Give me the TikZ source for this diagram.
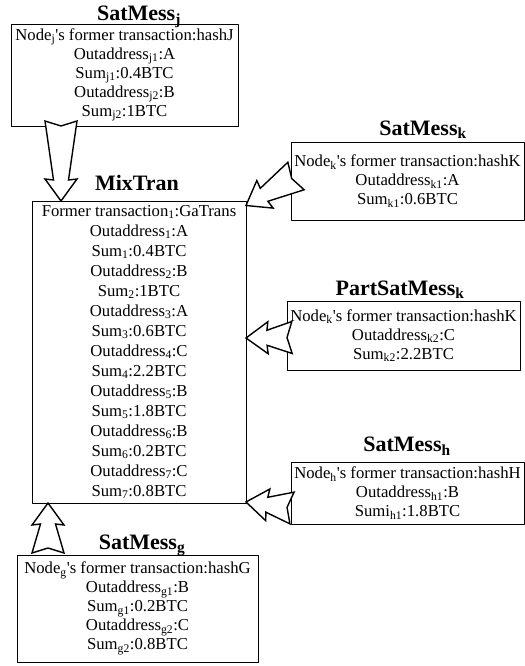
\documentclass[tikz,border=0pt]{standalone}
\usepackage{fontspec}
\setmainfont{Liberation Serif}
\usepackage{tikz}
\usetikzlibrary{arrows,shapes,calc}

\tikzset{
  msgbox/.style={draw, align=center, inner sep=0pt, line width=0.8bp,
    font=\fontsize{16.7bp}{19bp}\selectfont},
  msgtitle/.style={anchor=base, inner sep=0pt,
    font=\fontsize{22bp}{26bp}\selectfont\bfseries},
  fatarrow/.style={draw, fill=white, line width=1.4bp, line join=miter},
}

% hollow block arrow from #1 (tail) to #2 (tip)
\newcommand{\fatarrow}[2]{%
  \draw[fatarrow] ($(#1)!16bp!90:(#2)$) -- ($(#1)!5bp!(#2)$) -- ($(#1)!16bp!-90:(#2)$)
    -- ($($(#2)!21bp!(#1)$)!7.5bp!-90:(#2)$) -- ($($(#2)!22bp!(#1)$)!16bp!-90:(#2)$)
    -- (#2)
    -- ($($(#2)!22bp!(#1)$)!16bp!90:(#2)$) -- ($($(#2)!21bp!(#1)$)!7.5bp!90:(#2)$)
    -- cycle;%
}
\newcommand{\sq}{\textquotesingle}

\begin{document}
\begin{tikzpicture}[>=latex',line join=bevel,x=1bp,y=-1bp]
  \pgfsetlinewidth{1bp}
  \useasboundingbox (0,0) rectangle (525,666);
%%
\pgfsetcolor{black}
  % Node: SatMess_j
\begin{scope}
  \node[msgtitle] (titlej) at (139,21) {SatMess\textsubscript{j}};
  \node[msgbox, minimum width=227bp, minimum height=102bp] (satj) at (124.5,75)
    {Node\textsubscript{j}\sq s former transaction:hashJ\\
     Outaddress\textsubscript{j1}:A\\ Sum\textsubscript{j1}:0.4BTC\\
     Outaddress\textsubscript{j2}:B\\ Sum\textsubscript{j2}:1BTC};
\end{scope}
  % Node: MixTran
\begin{scope}
  \node[msgtitle] (titlemix) at (137,190) {MixTran};
  \node[msgbox, minimum width=214bp, minimum height=302bp,
    font=\fontsize{16.7bp}{20bp}\selectfont] (mixtran) at (139,352)
    {Former transaction\textsubscript{1}:GaTrans\\
     Outaddress\textsubscript{1}:A\\ Sum\textsubscript{1}:0.4BTC\\
     Outaddress\textsubscript{2}:B\\ Sum\textsubscript{2}:1BTC\\
     Outaddress\textsubscript{3}:A\\ Sum\textsubscript{3}:0.6BTC\\
     Outaddress\textsubscript{4}:C\\ Sum\textsubscript{4}:2.2BTC\\
     Outaddress\textsubscript{5}:B\\ Sum\textsubscript{5}:1.8BTC\\
     Outaddress\textsubscript{6}:B\\ Sum\textsubscript{6}:0.2BTC\\
     Outaddress\textsubscript{7}:C\\ Sum\textsubscript{7}:0.8BTC};
\end{scope}
  % Node: SatMess_k
\begin{scope}
  \node[msgtitle] (titlek) at (423,135) {SatMess\textsubscript{k}};
  \node[msgbox, minimum width=233bp, minimum height=78bp] (satk) at (407.5,181)
    {Node\textsubscript{k}\sq s former transaction:hashK\\
     Outaddress\textsubscript{k1}:A\\ Sum\textsubscript{k1}:0.6BTC};
\end{scope}
  % Node: PartSatMess_k
\begin{scope}
  \node[msgtitle] (titlepart) at (400,295) {PartSatMess\textsubscript{k}};
  \node[msgbox, minimum width=233bp, minimum height=69bp] (partk) at (403.5,335.5)
    {Node\textsubscript{k}\sq s former transaction:hashK\\
     Outaddress\textsubscript{k2}:C\\ Sum\textsubscript{k2}:2.2BTC};
\end{scope}
  % Node: SatMess_h
\begin{scope}
  \node[msgtitle] (titleh) at (407,451.5) {SatMess\textsubscript{h}};
  \node[msgbox, minimum width=233bp, minimum height=62bp] (sath) at (407.5,493)
    {Node\textsubscript{h}\sq s former transaction:hashH\\
     Outaddress\textsubscript{h1}:B\\ Sumi\textsubscript{h1}:1.8BTC};
\end{scope}
  % Node: SatMess_g
\begin{scope}
  \node[msgtitle] (titleg) at (142,549) {SatMess\textsubscript{g}};
  \node[msgbox, minimum width=241bp, minimum height=107bp] (satg) at (137.5,608.5)
    {Node\textsubscript{g}\sq s former transaction:hashG\\
     Outaddress\textsubscript{g1}:B\\ Sum\textsubscript{g1}:0.2BTC\\
     Outaddress\textsubscript{g2}:C\\ Sum\textsubscript{g2}:0.8BTC};
\end{scope}
%
  \coordinate (jtail) at (61,121);    \coordinate (jtip) at (61,201);
  \coordinate (ktail) at (296,176);   \coordinate (ktip) at (246,205.5);
  \coordinate (ptail) at (292,337.5); \coordinate (ptip) at (246,338);
  \coordinate (htail) at (292,508);   \coordinate (htip) at (246,502);
  \coordinate (gtail) at (48,553);    \coordinate (gtip) at (48,503);
  % Edge: SatMess_j -> MixTran
  \fatarrow{jtail}{jtip}
  % Edge: SatMess_k -> MixTran
  \fatarrow{ktail}{ktip}
  % Edge: PartSatMess_k -> MixTran
  \fatarrow{ptail}{ptip}
  % Edge: SatMess_h -> MixTran
  \fatarrow{htail}{htip}
  % Edge: SatMess_g -> MixTran
  \fatarrow{gtail}{gtip}
%
\end{tikzpicture}
\end{document}
